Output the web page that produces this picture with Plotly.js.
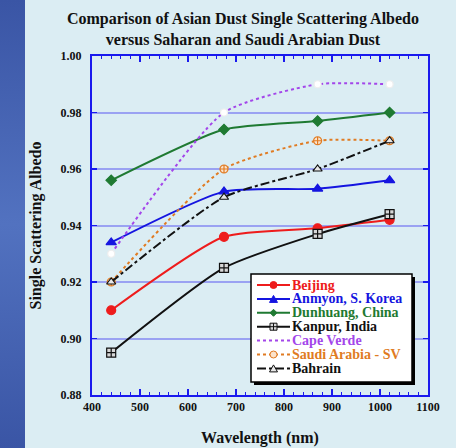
<!DOCTYPE html>
<html>
<head>
<meta charset="utf-8">
<script src="https://cdn.plot.ly/plotly-3.0.1.min.js"></script>
<style>
  html, body { margin: 0; padding: 0; width: 456px; height: 448px; overflow: hidden; background: #dbedf3; }
  #band { position: absolute; left: 0; top: 0; width: 25px; height: 448px;
          background: linear-gradient(to bottom, #3a55a5 0%, #5272c0 50%, #3a55a5 100%); }
  #chart { position: absolute; left: 0; top: 0; width: 456px; height: 448px; }
</style>
</head>
<body>
<div id="band"></div>
<div id="chart"></div>
<script>
// ---- data ----
const wavelengths = [440, 675, 870, 1020];
const seriesNames = ["Beijing", "Anmyon, S. Korea", "Dunhuang, China", "Kanpur, India", "Cape Verde", "Saudi Arabia - SV", "Bahrain"];
const beijing   = [0.910, 0.936, 0.939, 0.942];
const anmyon    = [0.934, 0.952, 0.953, 0.956];
const dunhuang  = [0.956, 0.974, 0.977, 0.980];
const kanpur    = [0.895, 0.925, 0.937, 0.944];
const capeVerde = [0.930, 0.980, 0.990, 0.990];
const saudi     = [0.920, 0.960, 0.970, 0.970];
const bahrain   = [0.920, 0.950, 0.960, 0.970];
const xTicks = [400, 500, 600, 700, 800, 900, 1000, 1100];
const yTicks = [0.88, 0.90, 0.92, 0.94, 0.96, 0.98, 1.00];

// ---- styles ----
const FONT = "'Liberation Serif', 'Times New Roman', serif";
const styles = [
  {color: "#ee1c1c", dash: "solid",   symbol: "circle",        mcolor: "#ee1c1c", lcolor: "#ee1c1c", size: 9},
  {color: "#1515e0", dash: "solid",   symbol: "triangle-up",   mcolor: "#1515e0", lcolor: "#1515e0", size: 9},
  {color: "#1f7a32", dash: "solid",   symbol: "diamond",       mcolor: "#1f7a32", lcolor: "#1f7a32", size: 8},
  {color: "#111111", dash: "solid",   symbol: "square-cross",  mcolor: "#d8d8d8", lcolor: "#111111", size: 9},
  {color: "#a346ea", dash: "dot",     symbol: "circle",        mcolor: "#ffffff", lcolor: "#eeeeee", size: 7},
  {color: "#e07b22", dash: "dot",     symbol: "circle-cross",  mcolor: "#fbe3cc", lcolor: "#e07b22", size: 8},
  {color: "#111111", dash: "dashdot", symbol: "triangle-up",   mcolor: "#e8e8e8", lcolor: "#111111", size: 8}
];
const allY = [beijing, anmyon, dunhuang, kanpur, capeVerde, saudi, bahrain];

const traces = allY.map((ys, i) => ({
  type: "scatter", mode: "lines+markers", name: seriesNames[i],
  x: wavelengths, y: ys,
  line: {color: styles[i].color, width: 2, dash: styles[i].dash, shape: "spline", smoothing: 0.6},
  marker: {symbol: styles[i].symbol, size: styles[i].size, color: styles[i].mcolor,
           line: {color: styles[i].lcolor, width: 1.2}},
  showlegend: false
}));

// ---- layout geometry (pixels) ----
const L = 92, R = 28, T = 56, B = 53, W = 456, H = 448;
const pw = W - L - R, ph = H - T - B;
const px2x = px => (px - L) / pw;
const py2y = py => (H - B - py) / ph;

// custom legend (box, shadow, samples, labels)
const shapes = [];
shapes.push({type: "rect", xref: "paper", yref: "paper", layer: "above",
  x0: px2x(254), x1: px2x(415), y0: py2y(385), y1: py2y(277),
  fillcolor: "#000000", line: {width: 0}});
shapes.push({type: "rect", xref: "paper", yref: "paper", layer: "above",
  x0: px2x(251), x1: px2x(412), y0: py2y(382), y1: py2y(274),
  fillcolor: "#ffffff", line: {color: "#000000", width: 1.5}});
const entryY0 = 285, entryDY = 13.9;
const markerPaths = {
  "triangle-up": "M-4,-3.5 L4,-3.5 L0,3.5 Z",
  "diamond": "M0,-3.5 L3.5,0 L0,3.5 L-3.5,0 Z",
  "square-cross": "M-3.5,-3.5 H3.5 V3.5 H-3.5 Z M0,-3.5 V3.5 M-3.5,0 H3.5"
};
styles.forEach((s, i) => {
  const cy = entryY0 + i * entryDY;
  shapes.push({type: "line", xref: "paper", yref: "paper", layer: "above",
    x0: px2x(257), x1: px2x(290), y0: py2y(cy), y1: py2y(cy),
    line: {color: s.color, width: 2, dash: s.dash}});
  if (i === 4) return; // Cape Verde: no visible marker in legend
  const common = {xref: "paper", yref: "paper", layer: "above",
    xsizemode: "pixel", ysizemode: "pixel", xanchor: px2x(273.5), yanchor: py2y(cy),
    fillcolor: s.mcolor, line: {color: s.lcolor, width: 1}};
  if (s.symbol === "circle" || s.symbol === "circle-cross") {
    shapes.push(Object.assign({type: "circle", x0: -3.5, x1: 3.5, y0: -3.5, y1: 3.5}, common));
  } else {
    shapes.push(Object.assign({type: "path", path: markerPaths[s.symbol]}, common));
  }
});
const anns = seriesNames.map((n, i) => ({
  xref: "paper", yref: "paper", x: px2x(291), y: py2y(entryY0 + i * entryDY),
  xanchor: "left", yanchor: "middle", showarrow: false, text: n, borderpad: 0,
  font: {family: FONT, size: 14, weight: "bold", color: styles[i].color}
}));

const axisColor = "#1a1aee";
const layout = {
  width: W, height: H,
  margin: {l: L, r: R, t: T, b: B},
  paper_bgcolor: "rgba(0,0,0,0)", plot_bgcolor: "rgba(0,0,0,0)",
  showlegend: false,
  title: {
    text: "Comparison of Asian Dust Single Scattering Albedo<br>versus Saharan and Saudi Arabian Dust",
    font: {family: FONT, size: 16, weight: "bold", color: "#111111"},
    x: 243 / 456, xref: "container", xanchor: "center",
    y: 1 - 24 / 448, yref: "container", yanchor: "top"
  },
  xaxis: {
    range: [400, 1100], tickvals: xTicks, ticktext: xTicks.map(String),
    showgrid: false, zeroline: false,
    showline: true, linecolor: axisColor, linewidth: 2, mirror: "allticks",
    ticks: "inside", ticklen: 6, tickwidth: 1.5, tickcolor: axisColor,
    minor: {dtick: 20, ticks: "inside", ticklen: 3, tickwidth: 1, tickcolor: axisColor, showgrid: false},
    tickfont: {family: FONT, size: 12, weight: "bold", color: "#111111"},
    title: {text: "Wavelength (nm)", font: {family: FONT, size: 16, weight: "bold", color: "#111111"}, standoff: 18}
  },
  yaxis: {
    range: [0.88, 1.00], tickvals: yTicks, ticktext: yTicks.map(v => v.toFixed(2)),
    showgrid: true, gridcolor: "rgba(100,100,240,0.55)", gridwidth: 2, zeroline: false,
    showline: true, linecolor: axisColor, linewidth: 2, mirror: "allticks",
    ticks: "inside", ticklen: 5, tickwidth: 1.5, tickcolor: axisColor,
    tickfont: {family: FONT, size: 12, weight: "bold", color: "#111111"},
    ticklabelstandoff: 6,
    title: {text: "Single Scattering Albedo", font: {family: FONT, size: 16, weight: "bold", color: "#111111"}, standoff: 15}
  },
  shapes: shapes,
  annotations: anns
};

Plotly.newPlot("chart", traces, layout, {staticPlot: true, displayModeBar: false});
</script>
</body>
</html>
